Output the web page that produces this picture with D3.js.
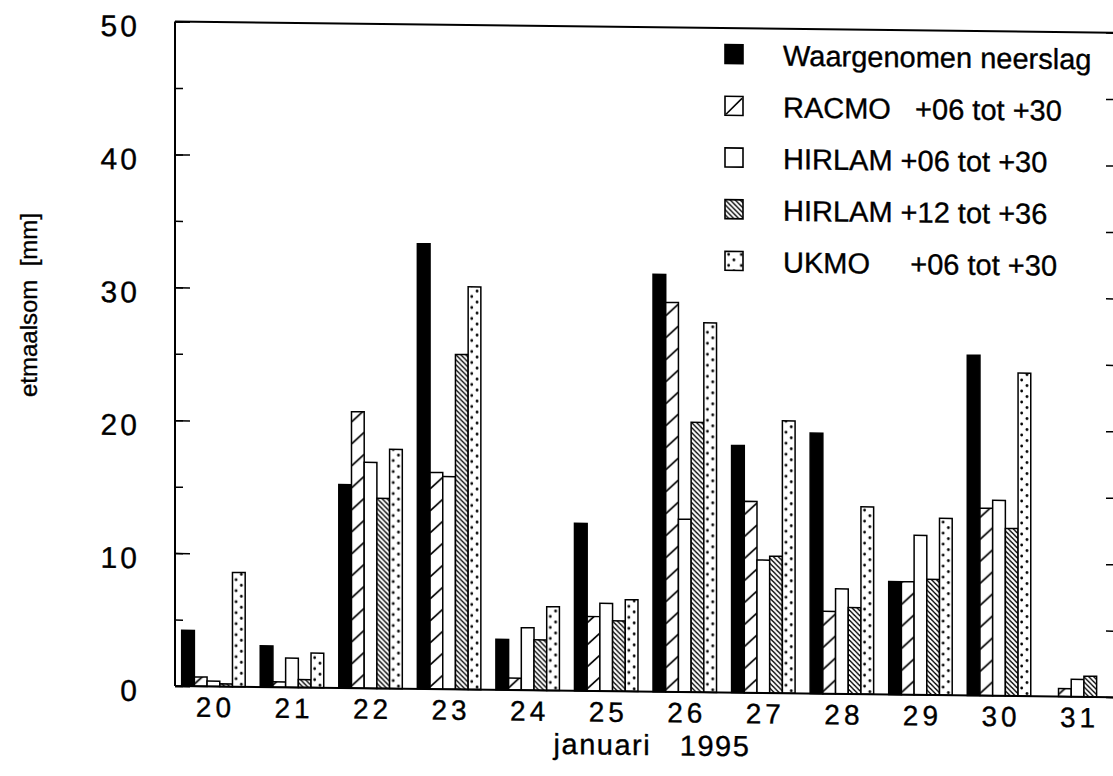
<!DOCTYPE html>
<html>
<head>
<meta charset="utf-8">
<script src="https://cdn.jsdelivr.net/npm/d3@7"></script>
<style>
  html, body { margin: 0; padding: 0; background: #fff; }
  svg { display: block; }
  text { font-family: "Liberation Sans", Arial, Helvetica, sans-serif; fill: #000; stroke: #000; stroke-width: 0.35px; }
</style>
</head>
<body>
<svg id="chart" width="1113" height="776"></svg>
<script>
// ---------- data ----------
const days = ["20","21","22","23","24","25","26","27","28","29","30","31"];
const seriesKeys = ["obs","racmo","hir06","hir12","ukmo"];
const seriesLabels = ["Waargenomen neerslag", "RACMO   +06 tot +30", "HIRLAM +06 tot +30", "HIRLAM +12 tot +36", "UKMO     +06 tot +30"];
const observed = [4.2, 3.1, 15.3, 33.5, 3.8, 12.6, 31.4, 18.6, 19.6, 8.5, 25.6, 0];
const racmo    = [0.7, 0.4, 20.8, 16.3, 0.9, 5.6, 29.3, 14.4, 6.2, 8.5, 14.1, 0.6];
const hirlam06 = [0.4, 2.2, 17.0, 16.0, 4.7, 6.6, 13.0, 10.0, 7.9, 12.0, 14.7, 1.3];
const hirlam12 = [0.2, 0.6, 14.3, 25.2, 3.8, 5.3, 20.3, 10.3, 6.5, 8.7, 12.6, 1.55];
const ukmo     = [8.6, 2.6, 18.0, 30.3, 6.3, 6.9, 27.8, 20.5, 14.1, 13.3, 24.3, 0];
const yTickLabels = [0, 10, 20, 30, 40, 50];
const yMinorTicks = [0, 5, 10, 15, 20, 25, 30, 35, 40, 45, 50];
const xTitle = "januari   1995";
const yTitle = "etmaalsom  [mm]";

const seriesValues = [observed, racmo, hirlam06, hirlam12, ukmo];

(function () {
// ---------- layout ----------
const svg = d3.select("#chart");
const pLeft = 175, pRight = 1116, pTop = 21.5, pBottom = 686;

const defs = svg.append("defs");

const x = d3.scaleBand().domain(days).range([pLeft, pRight]).paddingInner(0.1917).paddingOuter(0.085);
const xs = d3.scaleBand().domain(seriesKeys).range([0, x.bandwidth()]);
const y = d3.scaleLinear().domain([0, 50]).range([pBottom, pTop]);
const bw = xs.bandwidth();

// patterns (user space of each translated bar group, origin at baseline)
const pR = defs.append("pattern").attr("id", "p-racmo").attr("patternUnits", "userSpaceOnUse")
  .attr("width", bw).attr("height", 22);
pR.append("path").attr("d", `M0,20 L${bw},8`).attr("stroke", "#000").attr("stroke-width", 1.7).attr("fill", "none");

const pH = defs.append("pattern").attr("id", "p-hir12").attr("patternUnits", "userSpaceOnUse")
  .attr("width", 5).attr("height", 5);
pH.append("path").attr("d", "M-1,-1 L6,6 M-1,4 L1,6 M4,-1 L6,1").attr("stroke", "#000").attr("stroke-width", 1.3).attr("fill", "none");

const pU = defs.append("pattern").attr("id", "p-ukmo").attr("patternUnits", "userSpaceOnUse")
  .attr("width", bw).attr("height", 11);
pU.append("circle").attr("cx", 3.6).attr("cy", 3).attr("r", 1.4).attr("fill", "#000");
pU.append("circle").attr("cx", 8.9).attr("cy", 8.5).attr("r", 1.4).attr("fill", "#000");

const fills = { obs: "#000", racmo: "url(#p-racmo)", hir06: "#fff", hir12: "url(#p-hir12)", ukmo: "url(#p-ukmo)" };

// root group with slight scan skew
const root = svg.append("g").attr("transform", `translate(${pLeft},0) skewY(0.68) translate(${-pLeft},0)`);

// bars
days.forEach((d, i) => {
  seriesKeys.forEach((k, j) => {
    const v = seriesValues[j][i];
    if (!(v > 0)) return;
    const h = y(0) - y(v);
    const g = root.append("g").attr("transform", `translate(${x(d) + xs(k)},${y(0)})`);
    g.append("rect").attr("x", 0).attr("y", -h).attr("width", bw).attr("height", h)
      .attr("fill", "#fff");
    g.append("rect").attr("x", 0).attr("y", -h).attr("width", bw).attr("height", h)
      .attr("fill", fills[k]).attr("stroke", "#000").attr("stroke-width", 1.5);
  });
});

// axes
const axL = d3.axisLeft(y).tickValues(yMinorTicks).tickSize(-8).tickFormat("");
root.append("g").attr("transform", `translate(${pLeft},0)`).call(axL)
  .call(g => g.select(".domain").remove())
  .call(g => g.selectAll("line").attr("stroke", "#000").attr("stroke-width", 1.5));
const axLM = d3.axisLeft(y).tickValues(yTickLabels).tickSize(-15).tickFormat("");
root.append("g").attr("transform", `translate(${pLeft},0)`).call(axLM)
  .call(g => g.select(".domain").remove())
  .call(g => g.selectAll("line").attr("stroke", "#000").attr("stroke-width", 1.5));

const axR = d3.axisRight(y).tickValues(yMinorTicks).tickSize(-10).tickFormat("");
root.append("g").attr("transform", `translate(${pRight},0)`).call(axR)
  .call(g => g.select(".domain").remove())
  .call(g => g.selectAll("line").attr("stroke", "#000").attr("stroke-width", 1.5));

// frame lines
root.append("line").attr("x1", pLeft).attr("x2", pLeft).attr("y1", y(50)).attr("y2", y(0))
  .attr("stroke", "#000").attr("stroke-width", 2);
root.append("line").attr("x1", pLeft).attr("x2", pRight).attr("y1", y(50)).attr("y2", y(50))
  .attr("stroke", "#000").attr("stroke-width", 2);
root.append("line").attr("x1", pLeft).attr("x2", pRight).attr("y1", y(0)).attr("y2", y(0))
  .attr("stroke", "#000").attr("stroke-width", 2);

// y tick labels
root.selectAll(".ylab").data(yTickLabels).join("text").attr("class", "ylab")
  .attr("x", 140).attr("y", d => y(d) + 15.5)
  .attr("text-anchor", "end").attr("font-size", 30).attr("letter-spacing", 3)
  .text(d => d);

// x tick labels
root.selectAll(".xlab").data(days).join("text").attr("class", "xlab")
  .attr("x", d => x(d) + x.bandwidth() / 2 + 2).attr("y", 716.5)
  .attr("text-anchor", "middle").attr("font-size", 28).attr("letter-spacing", 4)
  .text(d => d);

// axis titles
root.append("text").attr("x", 652).attr("y", 749.5).attr("text-anchor", "middle")
  .attr("font-size", 29).attr("letter-spacing", 1.5).style("white-space", "pre").text(xTitle);
svg.append("text").attr("transform", "translate(37,305) rotate(-90)").attr("text-anchor", "middle")
  .attr("font-size", 24).style("white-space", "pre").text(yTitle);

// legend
const lg = root.append("g");
seriesKeys.forEach((k, i) => {
  const cy = 48 + i * 51.7;
  const sw = lg.append("g").attr("transform", `translate(725,${cy - 10})`);
  if (k === "racmo") {
    sw.append("rect").attr("width", 18).attr("height", 19).attr("fill", "#fff").attr("stroke", "#000").attr("stroke-width", 1.6);
    sw.append("line").attr("x1", 1).attr("y1", 18).attr("x2", 17).attr("y2", 2).attr("stroke", "#000").attr("stroke-width", 1.6);
  } else {
    sw.append("rect").attr("width", 18).attr("height", 19).attr("fill", "#fff");
    sw.append("rect").attr("width", 18).attr("height", 19).attr("fill", fills[k]).attr("stroke", "#000").attr("stroke-width", 1.6);
  }
  lg.append("text").attr("x", 783).attr("y", cy + 10.5).attr("font-size", 29)
    .style("white-space", "pre").text(seriesLabels[i]);
});
})();
</script>
</body>
</html>
